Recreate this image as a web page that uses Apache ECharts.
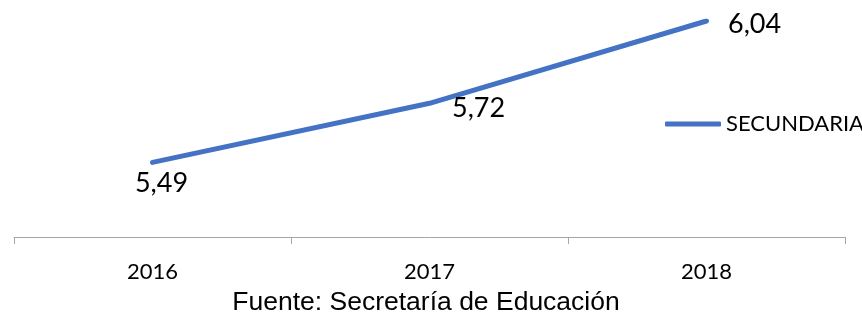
<!DOCTYPE html>
<html>
<head>
<meta charset="utf-8">
<script src="https://cdn.jsdelivr.net/npm/echarts@6/dist/echarts.min.js"></script>
<style>
  html, body { margin: 0; padding: 0; background: #fff; }
  #chart { width: 862px; height: 314px; }
</style>
</head>
<body>
<div id="chart"></div>
<script>
const years = ['2016', '2017', '2018']
const secundaria = [5.49, 5.72, 6.04]
const seriesName = 'SECUNDARIA'
const sourceText = 'Fuente: Secretaría de Educación'

// each point label sits a little differently in the original
const labelPlacement = [
  { position: 'bottom', distance: 7, offset: [9, 0] },
  { position: 'right', distance: 22, offset: [0, 5] },
  { position: 'right', distance: 21, offset: [0, 3] }
]

const chart = echarts.init(document.getElementById('chart'))

const option = {
  animation: false,
  backgroundColor: '#fff',
  title: {
    text: sourceText,
    left: 421,
    top: 284,
    textAlign: 'center',
    textStyle: {
      fontFamily: 'Liberation Sans',
      fontSize: 26.5,
      fontWeight: 'normal',
      color: '#000'
    }
  },
  legend: {
    data: [seriesName],
    left: 660,
    top: 108,
    icon: 'roundRect',
    itemWidth: 56,
    itemHeight: 5,
    textStyle: {
      fontFamily: 'Lato',
      fontSize: 22,
      color: '#000'
    }
  },
  grid: {
    left: 14,
    right: 17,
    top: 21,
    bottom: 77
  },
  xAxis: {
    type: 'category',
    data: years,
    boundaryGap: true,
    axisLine: { lineStyle: { color: '#a6a6a6', width: 1 } },
    axisTick: { show: true, length: 7, lineStyle: { color: '#a6a6a6' } },
    axisLabel: {
      margin: 24,
      fontFamily: 'Lato',
      fontSize: 22,
      color: '#000'
    }
  },
  yAxis: {
    type: 'value',
    min: 5.2,
    max: 6.04,
    show: false
  },
  series: [
    {
      name: seriesName,
      type: 'line',
      data: secundaria.map((v, i) => ({
        value: v,
        label: labelPlacement[i]
      })),
      showSymbol: true,
      symbol: 'circle',
      symbolSize: 1,
      lineStyle: { color: '#4472c4', width: 5, cap: 'round' },
      itemStyle: { color: '#4472c4' },
      label: {
        show: true,
        fontFamily: 'Lato',
        fontSize: 27,
        color: '#000',
        formatter: p => p.value.toFixed(2).replace('.', ',')
      }
    }
  ]
}

chart.setOption(option)
</script>
</body>
</html>
